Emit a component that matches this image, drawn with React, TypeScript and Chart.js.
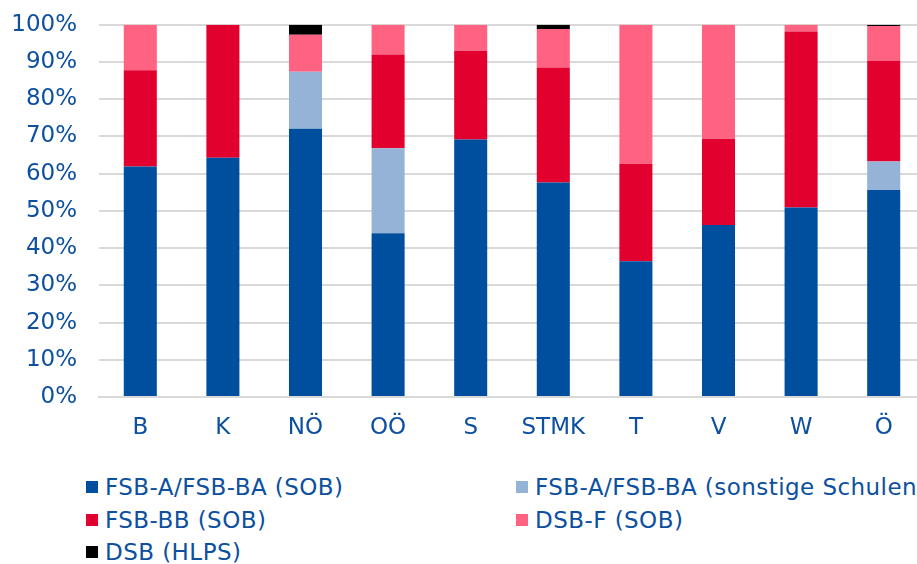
import React, { useEffect, useRef } from "react";
import { Chart, registerables } from "chart.js";

Chart.register(...registerables);

const categories = ["B", "K", "NÖ", "OÖ", "S", "STMK", "T", "V", "W", "Ö"];
const fsbA_SOB = [61.9, 64.3, 72.1, 44.0, 69.2, 57.6, 36.5, 46.2, 50.9, 55.6];
const fsbA_sonst = [0, 0, 15.3, 22.8, 0, 0, 0, 0, 0, 7.7];
const fsbBB_SOB = [25.9, 35.7, 0, 25.2, 23.8, 30.9, 26.2, 23.2, 47.3, 27.0];
const dsbF_SOB = [12.2, 0, 9.9, 8.0, 7.0, 10.4, 37.3, 30.6, 1.8, 9.4];
const dsb_HLPS = [0, 0, 2.7, 0, 0, 1.1, 0, 0, 0, 0.3];

const seriesNames = [
  "FSB-A/FSB-BA (SOB)",
  "FSB-A/FSB-BA (sonstige Schulen)",
  "FSB-BB (SOB)",
  "DSB-F (SOB)",
  "DSB (HLPS)",
];
const seriesColors = ["#004f9f", "#95b3d7", "#e2002e", "#ff6381", "#000000"];

const TEXT = "#0d50a0";
const FONT = "'DejaVu Sans', Verdana, sans-serif";

export default function App() {
  const ref = useRef<HTMLCanvasElement>(null);
  useEffect(() => {
    document.body.style.margin = "0";
    const values = [fsbA_SOB, fsbA_sonst, fsbBB_SOB, dsbF_SOB, dsb_HLPS];
    const chart = new Chart(ref.current!, {
      type: "bar",
      data: {
        labels: categories,
        datasets: values.map((v, i) => ({
          label: seriesNames[i],
          data: v,
          backgroundColor: seriesColors[i],
          borderWidth: 0,
          barPercentage: 0.4,
          categoryPercentage: 1,
        })),
      },
      options: {
        animation: false,
        responsive: false,
        maintainAspectRatio: false,
        layout: { padding: { top: 12, left: 0, right: 0, bottom: 0 } },
        plugins: { legend: { display: false }, tooltip: { enabled: false } },
        scales: {
          x: {
            stacked: true,
            grid: { display: false, drawTicks: false },
            border: { display: true, color: "#d9d9d9", width: 2 },
            ticks: {
              color: TEXT,
              font: { family: FONT, size: 23 },
              padding: 17,
              maxRotation: 0,
            },
            afterFit: (s: any) => {
              s.height = 48;
            },
          },
          y: {
            stacked: true,
            min: 0,
            max: 100,
            grid: { color: "#d9d9d9", lineWidth: 2, drawTicks: false },
            border: { display: false },
            ticks: {
              stepSize: 10,
              color: TEXT,
              font: { family: FONT, size: 23 },
              padding: 22,
              callback: (v: any) => v + "%",
            },
            afterFit: (s: any) => {
              s.width = 99;
            },
          },
        },
      },
    });
    return () => chart.destroy();
  }, []);

  const legendItem = (i: number, x: number, y: number) => (
    <div
      key={i}
      style={{
        position: "absolute",
        left: x,
        top: y,
        display: "flex",
        alignItems: "center",
        whiteSpace: "nowrap",
        fontFamily: FONT,
        fontSize: 23,
        letterSpacing: "0.45px",
        color: TEXT,
        lineHeight: "28px",
      }}
    >
      <span
        style={{
          display: "inline-block",
          width: 12,
          height: 12,
          background: seriesColors[i],
          marginRight: 7,
        }}
      />
      {seriesNames[i]}
    </div>
  );

  return (
    <div style={{ position: "relative", width: 917, height: 564, overflow: "hidden", background: "#fff" }}>
      <canvas ref={ref} width={925} height={456} style={{ position: "absolute", left: 0, top: -11, width: 925, height: 456 }} />
      {legendItem(0, 86, 473)}
      {legendItem(1, 516, 473)}
      {legendItem(2, 86, 506)}
      {legendItem(3, 516, 506)}
      {legendItem(4, 86, 538)}
    </div>
  );
}
